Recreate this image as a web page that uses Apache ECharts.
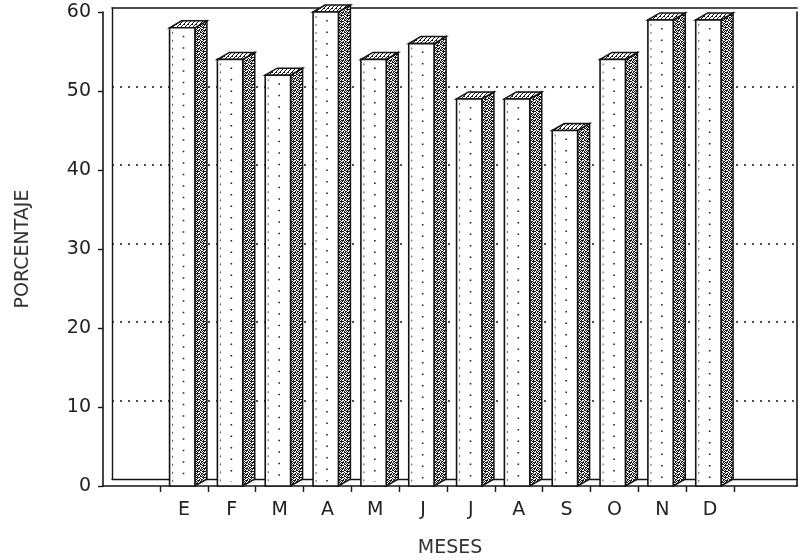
<!DOCTYPE html>
<html>
<head>
<meta charset="utf-8">
<script src="https://cdn.jsdelivr.net/npm/echarts@6/dist/echarts.min.js"></script>
<style>
  html, body { margin: 0; padding: 0; background: #ffffff; }
  #chart { width: 800px; height: 560px; }
</style>
</head>
<body>
<div id="chart"></div>
<script>
// ---- data ----
const months = ['E', 'F', 'M', 'A', 'M', 'J', 'J', 'A', 'S', 'O', 'N', 'D'];
const porcentaje = [58, 54, 52, 60, 54, 56, 49, 49, 45, 54, 59, 59];
const yTicks = [0, 10, 20, 30, 40, 50, 60];
const yTitle = 'PORCENTAJE';
const xTitle = 'MESES';

// ---- textures ----
function makePattern(w, h, draw) {
  const c = document.createElement('canvas');
  c.width = w; c.height = h;
  const g = c.getContext('2d');
  g.fillStyle = '#ffffff';
  g.fillRect(0, 0, w, h);
  g.fillStyle = '#141414';
  draw(g);
  return { image: c, repeat: 'repeat' };
}
const sideTexture = makePattern(6, 6, g => {
  const px = [[0,0],[1,0],[3,0],[4,1],[0,1],[2,2],[3,2],[5,2],[0,3],[1,3],[4,3],[2,4],[5,4],[3,5],[4,5],[1,5],[5,0],[2,1],[5,3]];
  px.forEach(p => g.fillRect(p[0], p[1], 1, 1));
});
const capTexture = makePattern(4, 4, g => {
  for (let i = 0; i < 4; i++) g.fillRect(3 - i, i, 1, 1);
  g.fillRect(0, 0, 1, 1);
});

const ink = '#141414';
const chart = echarts.init(document.getElementById('chart'), null, { renderer: 'canvas' });

const gridBase = { containLabel: false, outerBoundsMode: 'none' };

const option = {
  backgroundColor: '#ffffff',
  animation: false,
  grid: [
    Object.assign({ left: 103, right: 3, top: 12, bottom: 74 }, gridBase),   // front frame
    Object.assign({ left: 112, right: 3, top: 8, bottom: 81 }, gridBase),    // back wall
    Object.assign({ left: 160, right: 66, top: 12, bottom: 74 }, gridBase)   // month bands
  ],
  xAxis: [
    { gridIndex: 0, type: 'value', min: 0, max: 1, position: 'bottom',
      axisLine: { show: true, onZero: false, lineStyle: { color: ink, width: 1.6 } },
      axisTick: { show: false }, axisLabel: { show: false }, splitLine: { show: false },
      name: xTitle, nameLocation: 'middle', nameGap: 53,
      nameTextStyle: { fontFamily: 'DejaVu Sans', fontSize: 19, color: '#333' } },
    { gridIndex: 1, type: 'value', min: 0, max: 1, position: 'bottom',
      axisLine: { show: true, onZero: false, lineStyle: { color: ink, width: 1.4 } },
      axisTick: { show: false }, axisLabel: { show: false }, splitLine: { show: false } },
    { gridIndex: 1, type: 'value', min: 0, max: 1, position: 'top',
      axisLine: { show: true, onZero: false, lineStyle: { color: ink, width: 1.6 } },
      axisTick: { show: false }, axisLabel: { show: false }, splitLine: { show: false } },
    { gridIndex: 2, type: 'category', data: months, position: 'bottom',
      axisLine: { show: false },
      axisTick: { show: true, length: 6, interval: 0, lineStyle: { color: ink, width: 1.4 } },
      axisLabel: { margin: 15, fontFamily: 'DejaVu Sans', fontSize: 19, color: '#222' },
      splitLine: { show: false } }
  ],
  yAxis: [
    { gridIndex: 0, type: 'value', min: 0, max: 60, interval: 10, position: 'left',
      axisLine: { show: true, onZero: false, lineStyle: { color: ink, width: 1.6 } },
      axisTick: { show: true, inside: false, length: 5, lineStyle: { color: ink, width: 1.4 } },
      axisLabel: { margin: 12, fontFamily: 'DejaVu Sans', fontSize: 19, color: '#222',
        formatter: v => (yTicks.indexOf(v) >= 0 ? String(v) : '') },
      splitLine: { show: false },
      name: yTitle, nameLocation: 'middle', nameGap: 70, nameRotate: 90,
      nameTextStyle: { fontFamily: 'DejaVu Sans', fontSize: 19, color: '#333' } },
    { gridIndex: 0, type: 'value', min: 0, max: 60, position: 'right',
      axisLine: { show: true, onZero: false, lineStyle: { color: ink, width: 1.6 } },
      axisTick: { show: false }, axisLabel: { show: false }, splitLine: { show: false } },
    { gridIndex: 1, type: 'value', min: 0, max: 60, interval: 10, position: 'left',
      axisLine: { show: true, onZero: false, lineStyle: { color: ink, width: 1.4 } },
      axisTick: { show: false }, axisLabel: { show: false },
      splitLine: { show: true, showMinLine: false, showMaxLine: false,
        lineStyle: { color: ink, width: 1.5, type: [2, 6] } } },
    { gridIndex: 2, type: 'value', min: 0, max: 60, show: false }
  ],
  series: [{
    type: 'custom',
    xAxisIndex: 3,
    yAxisIndex: 3,
    data: months.map((m, i) => [i, porcentaje[i]]),
    z: 10,
    renderItem: function (params, api) {
      const idx = api.value(0);
      const val = api.value(1);
      const topPt = api.coord([idx, val]);
      const basePt = api.coord([idx, 0]);
      const bw = api.size([1, 0])[0];
      const left = topPt[0] - bw / 2;
      const fl = left + bw * 0.2;
      const fr = left + bw * 0.73;
      const top = topPt[1];
      const base = basePt[1];
      const dx = 12, dy = 7;
      const midX = fl + (fr - fl) * 0.55;
      return {
        type: 'group',
        children: [
          { type: 'polygon',
            shape: { points: [[fr, top], [fr + dx, top - dy], [fr + dx, base - dy], [fr, base]] },
            style: { fill: sideTexture, stroke: ink, lineWidth: 1.5 } },
          { type: 'polygon',
            shape: { points: [[fl, top], [fl + dx, top - dy], [fr + dx, top - dy], [fr, top]] },
            style: { fill: capTexture, stroke: ink, lineWidth: 1.5 } },
          { type: 'rect',
            shape: { x: fl, y: top, width: fr - fl, height: base - top },
            style: { fill: '#ffffff', stroke: ink, lineWidth: 1.6 } },
          { type: 'line',
            shape: { x1: midX, y1: top + 8, x2: midX, y2: base - 4 },
            style: { stroke: '#222', lineWidth: 1.6, lineDash: [1.5, 10] } },
          { type: 'line',
            shape: { x1: fl + 3, y1: top + 4, x2: fl + 3, y2: base - 4 },
            style: { stroke: '#555', lineWidth: 1, lineDash: [2, 6] } }
        ]
      };
    }
  }]
};
chart.setOption(option);
</script>
</body>
</html>
